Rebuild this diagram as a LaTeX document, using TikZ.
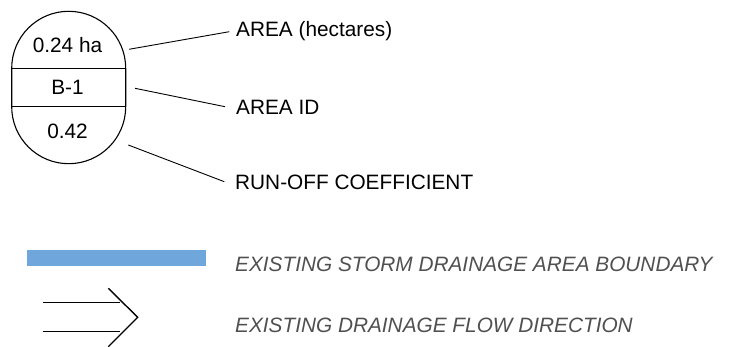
\documentclass[tikz,border=0pt]{standalone}
\usepackage{fontspec}
\setmainfont{Liberation Sans}
\definecolor{barblue}{HTML}{6FA7DD}
\definecolor{legendgray}{HTML}{505050}
\begin{document}
\begin{tikzpicture}[x=1pt,y=-1pt,
  txt/.style={inner sep=0pt, font=\fontsize{20.8}{24}\selectfont},
  lbl/.style={txt, anchor=base west},
  lgd/.style={txt, anchor=base west, text=legendgray, font=\fontsize{20.8}{24}\selectfont\itshape},
  val/.style={txt, anchor=base},
  leader/.style={draw=black, line width=0.9pt},
  sym/.style={draw=black, line width=1.4pt}]
\useasboundingbox (0,0) rectangle (729,347);
% catchment symbol
\draw[line width=1.1pt] (11.7,68.3) arc[start angle=180, end angle=360, radius=57]
  -- (125.7,106.7) arc[start angle=0, end angle=180, radius=57] -- cycle;
\draw[line width=1.1pt] (11.7,68.3) -- (125.7,68.3);
\draw[line width=1.1pt] (11.7,106.7) -- (125.7,106.7);
\node[val] (area) at (67.5,52.7) {0.24 ha};
\node[val] (id) at (67.5,95) {B-1};
\node[val] (coef) at (67.5,139) {0.42};
% labels
\node[lbl] (larea) at (236,36.7) {AREA (hectares)};
\node[lbl] (lid) at (236,115) {AREA ID};
\node[lbl] (lcoef) at (235,189.3) {RUN-OFF COEFFICIENT};
% leaders
\coordinate (a1) at (129,49.3); \coordinate (a2) at (229.3,31.7);
\coordinate (b1) at (135,88.3); \coordinate (b2) at (225,106.7);
\coordinate (c1) at (128.3,145); \coordinate (c2) at (224.3,181.7);
\draw[leader] (a1) -- (a2);
\draw[leader] (b1) -- (b2);
\draw[leader] (c1) -- (c2);
% legend: boundary
\fill[barblue] (26.7,250) rectangle (205.7,265.7);
\node[lgd] (lbound) at (235,271.7) {EXISTING STORM DRAINAGE AREA BOUNDARY};
% legend: flow arrow
\coordinate (f1s) at (42.7,302.7); \coordinate (f1e) at (120,302.7);
\coordinate (f2s) at (42.7,331.7); \coordinate (f2e) at (120,331.7);
\coordinate (ct) at (108.3,288.3); \coordinate (cm) at (137.7,317.3); \coordinate (cb) at (108.3,346.7);
\draw[sym] (f1s) -- (f1e);
\draw[sym] (f2s) -- (f2e);
\draw[sym] (ct) -- (cm) -- (cb);
\node[lgd] (lflow) at (235,333) {EXISTING DRAINAGE FLOW DIRECTION};
\end{tikzpicture}
\end{document}
